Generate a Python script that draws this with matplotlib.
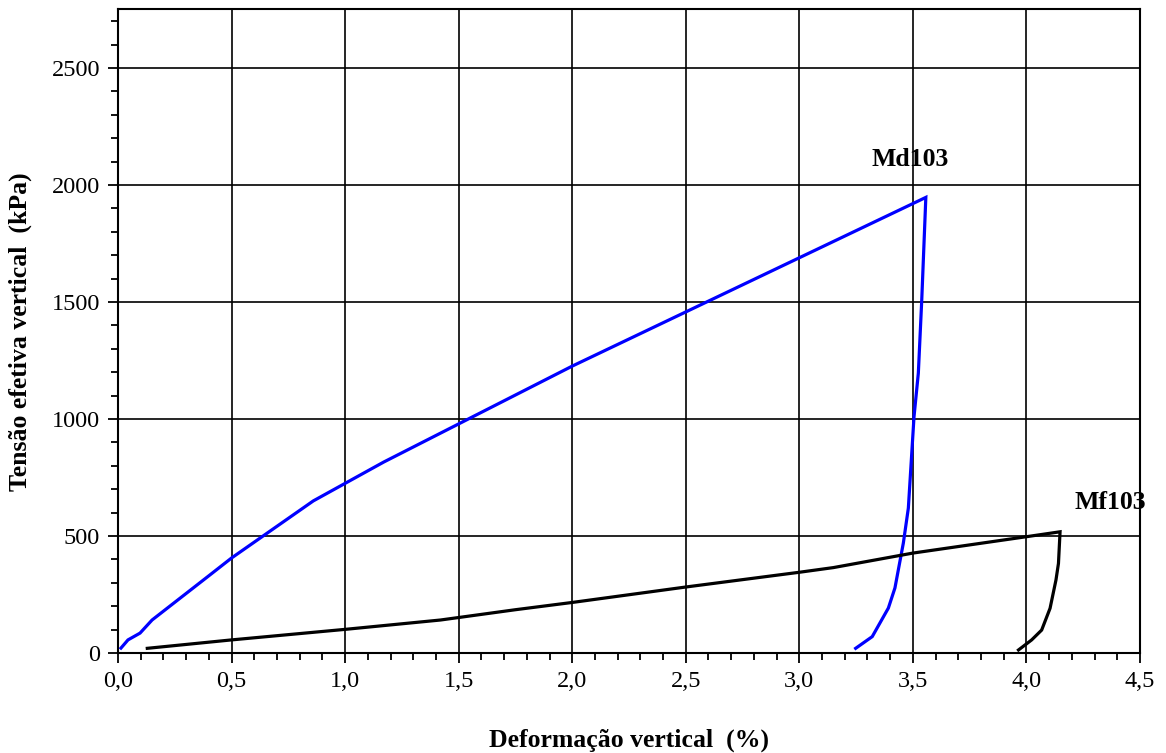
import matplotlib
matplotlib.use("Agg")
import matplotlib.pyplot as plt
from matplotlib.ticker import MultipleLocator, FuncFormatter

plt.rcParams['font.family'] = ['Liberation Serif', 'DejaVu Serif']

# Md103: loading then unloading branch
md_strain = [0.013, 0.044, 0.097, 0.15, 0.40, 0.50, 0.86, 1.17, 2.00, 3.557,
             3.539, 3.524, 3.505, 3.48, 3.458, 3.421, 3.392, 3.321, 3.248]
md_stress = [21, 56, 85, 141, 330, 406, 650, 816, 1226, 1947,
             1508, 1196, 1010, 619, 470, 278, 192, 70, 20]

# Mf103: loading then unloading branch
mf_strain = [0.129, 0.50, 1.00, 1.42, 1.75, 2.00, 2.50, 3.00, 3.15, 3.50, 4.00, 4.148,
             4.141, 4.13, 4.104, 4.067, 4.023, 3.965]
mf_stress = [20, 56, 101, 141, 185, 216, 282, 345, 365, 427, 497, 518,
             383, 312, 191, 98, 56, 13]

x_major = 0.5
y_major = 500

fig = plt.figure(figsize=(11.66, 7.53), dpi=100)
ax = fig.add_axes([0.1012, 0.1328, 0.8765, 0.8546])

ax.plot(md_strain, md_stress, color='#0000ff', lw=2.3, solid_joinstyle='miter', zorder=3)
ax.plot(mf_strain, mf_stress, color='black', lw=2.3, solid_joinstyle='miter', zorder=3)

ax.set_xlim(0, 4.5)
ax.set_ylim(0, 2750)
ax.xaxis.set_major_locator(MultipleLocator(x_major))
ax.xaxis.set_minor_locator(MultipleLocator(0.1))
ax.yaxis.set_major_locator(MultipleLocator(y_major))
ax.yaxis.set_minor_locator(MultipleLocator(100))
ax.xaxis.set_major_formatter(FuncFormatter(lambda v, p: f"{v:.1f}".replace('.', ',')))
ax.yaxis.set_major_formatter(FuncFormatter(lambda v, p: f"{v:.0f}"))

ax.grid(True, which='major', color='black', lw=1.2)
ax.set_axisbelow(True)
for s in ax.spines.values():
    s.set_linewidth(1.5)

ax.tick_params(which='both', direction='out', width=1.3, labelsize=17.5, pad=6)
ax.tick_params(which='major', length=7)
ax.tick_params(which='minor', length=5)

ax.set_xlabel("Deformação vertical  (%)", fontsize=18.5, fontweight='bold', labelpad=26)
ax.set_ylabel("Tensão efetiva vertical  (kPa)", fontsize=18.5, fontweight='bold', labelpad=14)

ax.text(3.49, 2110, "Md103", fontsize=18.5, fontweight='bold', ha='center', va='center')
ax.text(4.368, 645, "Mf103", fontsize=18.5, fontweight='bold', ha='center', va='center',
        clip_on=False)

fig.savefig("out.png", dpi=100)
